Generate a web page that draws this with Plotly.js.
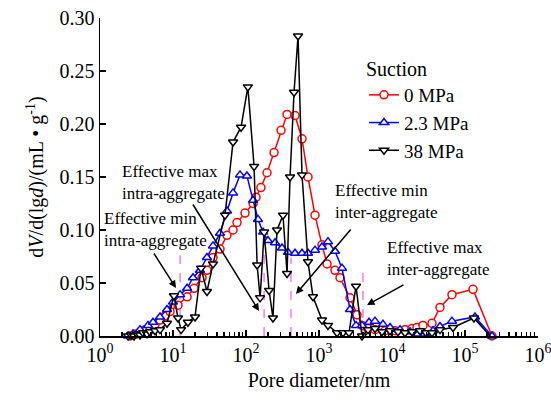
<!DOCTYPE html>
<html>
<head>
<meta charset="utf-8">
<script src="https://cdn.plot.ly/plotly-3.0.1.min.js"></script>
<style>
html,body{margin:0;padding:0;background:#fff;}
#chart{width:551px;height:405px;}
#chart text{font-family:"Liberation Serif","Times New Roman",serif !important;}
</style>
</head>
<body>
<div id="chart"></div>
<script>
// ---- data (pore diameter in nm, dV/d(lgd) in mL/g) ----
var seriesNames = ["0 MPa", "2.3 MPa", "38 MPa"];

var d0 = [2.58,3.01,3.53,4.13,4.84,5.67,6.63,7.77,9.10,11.7,15.6,19.4,25.0,29.2,35.3,44.0,54.9,66.4,75.3,96.9,125,137,160,194,242,302,365,469,585,707,881,1099,1288,1656,1940,2660,3318,3883,4690,5853,8017,10990,15070,18790,21990,26600,35320,45460,66340,128800,234300];
var v0 = [0,0.002,0.004,0.006,0.008,0.011,0.015,0.019,0.023,0.029,0.037,0.045,0.055,0.062,0.074,0.082,0.095,0.100,0.107,0.116,0.125,0.131,0.140,0.154,0.173,0.194,0.209,0.208,0.186,0.150,0.114,0.086,0.068,0.062,0.055,0.036,0.020,0.010,0.007,0.006,0.005,0.005,0.006,0.007,0.008,0.010,0.012,0.027,0.039,0.044,0];

var d23 = [2.42,2.83,3.53,4.54,5.32,6.63,8.27,10.0,12.5,15.6,18.8,23.4,29.2,35.3,44.0,54.9,66.4,82.8,103,125,146,171,200,250,311,376,469,585,707,881,1099,1328,1656,2066,2660,3214,3883,4843,5853,7532,9397,12880,17650,22700,28310,36480,45460,66340,137100,234300];
var v23 = [0,0.002,0.006,0.010,0.013,0.018,0.025,0.032,0.039,0.045,0.055,0.062,0.074,0.085,0.097,0.118,0.135,0.152,0.151,0.128,0.110,0.098,0.090,0.088,0.083,0.079,0.078,0.078,0.078,0.081,0.084,0.089,0.080,0.064,0.025,0.010,0.010,0.013,0.014,0.011,0.008,0.006,0.004,0.002,0.002,0.005,0.009,0.014,0.018,0];

var d38 = [2.42,2.66,2.92,3.21,3.53,3.88,4.40,4.84,5.67,6.63,8.27,10.3,11.7,12.9,16.0,20.0,24.2,29.2,35.3,51.6,66.4,85.5,106,129,142,156,177,207,234,266,321,365,401,455,516,585,707,828,1099,1328,1765,2131,2577,3214,3883,4690,5853,7295,9397,12080,15070,18790,24190,29220,35320,45460,68500,132900,234300];
var v38 = [0,0.001,0,0.002,0.001,0.003,0.002,0.004,0.005,0.006,0.012,0.038,0.017,0.006,0.013,0.018,0.064,0.042,0.068,0.114,0.183,0.197,0.235,0.160,0.067,0.036,0.098,0.043,0.017,0.100,0.114,0.059,0.150,0.230,0.283,0.152,0.070,0.037,0.015,0.010,0.003,0.003,0.003,0.047,0.000,0.006,0.007,0.004,0.005,0.004,0.003,0.004,0.005,0.003,0.003,0.006,0.008,0.017,-0.002];

// effective boundary markers (dashed verticals)
var boundaryD = [12.5, 177, 413, 4000];
var boundaryTop = [0.076, 0.098, 0.074, 0.062];

var xTickVals = [1, 10, 100, 1000, 10000, 100000, 1000000];
var xTickText = ["10<sup>0</sup>","10<sup>1</sup>","10<sup>2</sup>","10<sup>3</sup>","10<sup>4</sup>","10<sup>5</sup>","10<sup>6</sup>"];

// ---- build ----
var FONT = "Liberation Serif, Times New Roman, serif";
var minorVals = [];
for (var k = 0; k < 6; k++) for (var m = 2; m <= 9; m++) minorVals.push(m * Math.pow(10, k));

var bx = [], by = [];
for (var i = 0; i < boundaryD.length; i++) {
  bx.push(boundaryD[i], boundaryD[i], null);
  by.push(0, boundaryTop[i], null);
}

function series(name, x, y, color, symbol) {
  return {
    type: "scatter", mode: "lines+markers", name: name, x: x, y: y,
    cliponaxis: false,
    line: {color: color, width: 1.5},
    marker: {symbol: symbol, size: 8, color: "white", line: {color: color, width: 1.5}}
  };
}

var traces = [
  {type: "scatter", mode: "lines", x: bx, y: by, showlegend: false, hoverinfo: "skip",
   line: {color: "#f07cf0", width: 1.5, dash: "dash"}},
  series(seriesNames[0], d0, v0, "#ff0000", "circle"),
  series(seriesNames[1], d23, v23, "#0000ff", "triangle-up"),
  series(seriesNames[2], d38, v38, "#000000", "triangle-down")
];

// pixel helpers for annotation placement (plot area 100..538 x 18..336)
function px(x) { return (x - 100) / 438; }
function py(y) { return (336 - y) / 318; }

var annFont = {family: FONT, size: 17, color: "black"};
function label(text, left, cy) {
  return {xref: "paper", yref: "paper", x: px(left), y: py(cy), text: text,
          showarrow: false, xanchor: "left", yanchor: "middle", align: "left", font: annFont};
}
function arrow(tx, ty, hx, hy) {
  return {xref: "paper", yref: "paper", x: px(hx), y: py(hy), text: "",
          showarrow: true, ax: tx - hx, ay: ty - hy, axref: "pixel", ayref: "pixel",
          arrowhead: 2, arrowsize: 1, arrowwidth: 1.5, arrowcolor: "black", standoff: 0, startstandoff: 0};
}

var layout = {
  width: 551, height: 405,
  margin: {l: 100, r: 13, t: 18, b: 69},
  paper_bgcolor: "white", plot_bgcolor: "white",
  font: {family: FONT, size: 20, color: "black"},
  showlegend: true,
  legend: {
    x: px(364), y: py(50), xanchor: "left", yanchor: "top",
    bgcolor: "rgba(0,0,0,0)", borderwidth: 0,
    font: {family: FONT, size: 19, color: "black"},
    title: {text: "Suction", side: "top", font: {family: FONT, size: 20, color: "black"}},
    itemwidth: 30
  },
  xaxis: {
    type: "log", range: [-0.0005, 6.0005],
    tickmode: "array", tickvals: xTickVals, ticktext: xTickText,
    ticklabeloverflow: "allow",
    ticks: "inside", ticklen: 6, tickwidth: 1.5, tickcolor: "black",
    showline: true, linecolor: "black", linewidth: 1.5, mirror: false,
    showgrid: false, zeroline: false,
    tickfont: {family: FONT, size: 20, color: "black"},
    minor: {tickmode: "array", tickvals: minorVals, ticks: "inside", ticklen: 4, tickwidth: 1.2, tickcolor: "black", showgrid: false},
    title: {text: "Pore diameter/nm", font: {family: FONT, size: 20, color: "black"}, standoff: 8}
  },
  yaxis: {
    range: [0, 0.30], dtick: 0.05, tick0: 0, tickformat: ".2f",
    ticks: "inside", ticklen: 6, tickwidth: 1.5, tickcolor: "black",
    showline: true, linecolor: "black", linewidth: 1.5, mirror: false,
    showgrid: false, zeroline: false,
    tickfont: {family: FONT, size: 20, color: "black"},
    title: {text: "d<i>V</i>/d(lg<i>d</i>)/(mL • g<sup>-1</sup>)", font: {family: FONT, size: 20, color: "black"}, standoff: 10}
  },
  annotations: [
    label("Effective max<br>intra-aggregate", 120, 182),
    label("Effective min<br>intra-aggregate", 102, 229),
    label("Effective min<br>inter-aggregate", 333, 201),
    label("Effective max<br>inter-aggregate", 385, 258),
    arrow(192, 203, 259, 311),
    arrow(153, 252, 176, 288),
    arrow(352, 228, 296, 294),
    arrow(405, 284, 367, 305)
  ]
};

Plotly.newPlot("chart", traces, layout, {staticPlot: true, displayModeBar: false});
</script>
</body>
</html>
